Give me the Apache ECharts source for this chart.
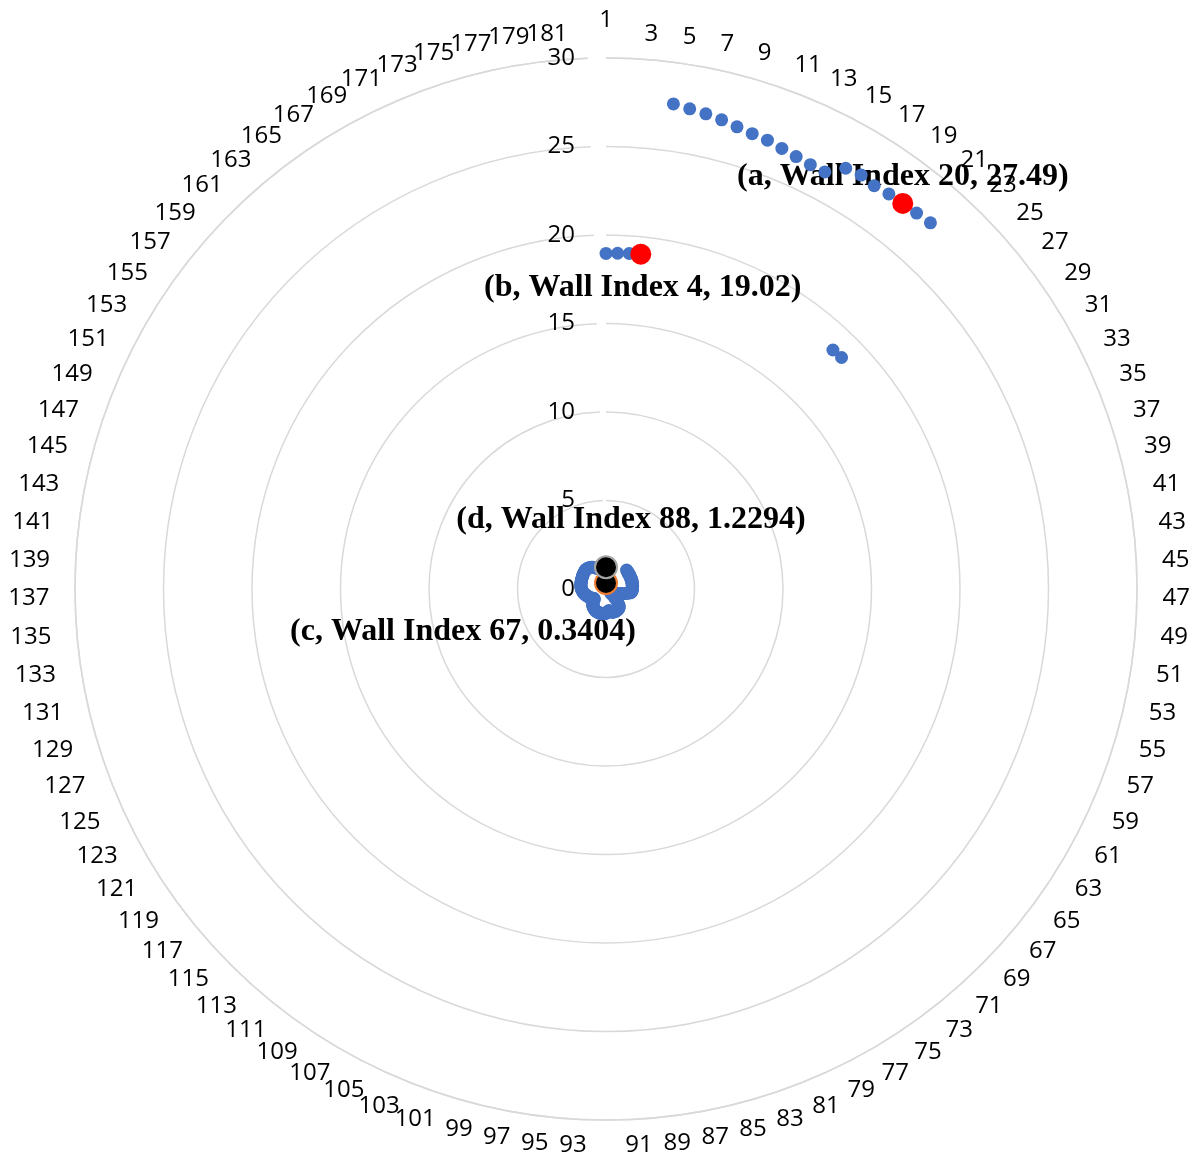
<!DOCTYPE html>
<html>
<head>
<meta charset="utf-8">
<script src="https://cdn.jsdelivr.net/npm/echarts@6/dist/echarts.min.js"></script>
<style>
  html, body { margin: 0; padding: 0; background: #ffffff; }
  #chart { width: 1196px; height: 1157px; }
</style>
</head>
<body>
<div id="chart"></div>
<script>
// Wall indices around the circle (1 at the top, clockwise)
const wallIndex = Array.from({ length: 182 }, (_, i) => String(i + 1));

// Measured value for every wall, in wall order 1..182
const wallValues = [
  // 1-4
  18.96, 18.98, 19.00, 19.02,
  // 5-22
  27.67, 27.54, 27.43, 27.30, 27.14, 27.02, 26.95, 26.80, 26.69, 26.61,
  26.61, 27.36, 27.47, 27.36, 27.45, 27.49, 27.55, 27.64,
  // 23-24
  18.62, 18.66,
  // 25-50
  1.58, 1.56, 1.55, 1.57, 1.54, 1.52, 1.55, 1.56, 1.53, 1.51, 1.54, 1.55, 1.52,
  1.50, 1.53, 1.54, 1.51, 1.49, 1.52, 1.50, 1.48, 1.50, 1.47, 1.49, 1.46, 1.45,
  // 51-66
  1.40, 1.28, 1.15, 1.02, 0.90, 0.80, 0.72, 0.64, 0.58, 0.52, 0.47, 0.43, 0.40,
  0.38, 0.36, 0.35,
  // 67
  0.3404,
  // 68-75
  0.45, 0.62, 0.80, 0.98, 1.12, 1.22, 1.28, 1.31,
  // 76-87
  1.33, 1.35, 1.34, 1.36, 1.38, 1.37, 1.35, 1.36, 1.38, 1.33, 1.30, 1.28,
  // 88
  1.2294,
  // 89-100
  1.26, 1.30, 1.34, 1.37, 1.39, 1.38, 1.40, 1.41, 1.39, 1.40, 1.42, 1.41,
  // 101-115
  1.40, 1.38, 1.39, 1.36, 1.37, 1.34, 1.32, 1.30, 1.27, 1.25, 1.22, 1.18, 1.12,
  1.05, 0.98,
  // 116-128
  0.92, 0.88, 0.86, 0.88, 0.92, 0.96, 1.00, 1.02, 1.05, 1.08, 1.10, 1.12, 1.15,
  // 129-150
  1.18, 1.22, 1.25, 1.28, 1.30, 1.32, 1.34, 1.36, 1.38, 1.40, 1.41, 1.42, 1.43,
  1.44, 1.44, 1.45, 1.46, 1.46, 1.47, 1.48, 1.48, 1.49,
  // 151-170
  1.50, 1.51, 1.52, 1.53, 1.54, 1.55, 1.56, 1.57, 1.58, 1.58, 1.57, 1.56, 1.54,
  1.52, 1.50, 1.47, 1.44, 1.40, 1.36, 1.32,
  // 171-182
  1.28, 1.25, 1.22, 1.20, 1.18, 1.17, 1.16, 1.15, 1.15, 1.14, 1.13, 1.12
];

// Highlighted walls
const highlightName  = ['a', 'b', 'c', 'd'];
const highlightWall  = [20, 4, 67, 88];
const highlightValue = [27.49, 19.02, 0.3404, 1.2294];
// spoke on which each highlight marker is placed (c and d sit on the first spoke)
const highlightSpoke = [20, 4, 1, 1];

// Radial axis
const radiusMin = 0, radiusMax = 30, radiusStep = 5;
// radial position (in axis units) of the wall-index labels, just outside the rim
const wallLabelRadius = 31.45;

const polarPoint = (value, wall) => [value, wall - 1];

const bluePoints = wallValues.map((v, i) => polarPoint(v, i + 1));
const highlightPoint = k => [polarPoint(highlightValue[k], highlightSpoke[k])];
const noteText = k => '(' + highlightName[k] + ', Wall Index ' + highlightWall[k] + ', ' + highlightValue[k] + ')';

// Wall-index labels: every other wall, hung off the rim toward the outside
const wallLabelItems = wallIndex
  .map((name, i) => ({ name, i }))
  .filter(d => d.i % 2 === 0)
  .map(d => {
    const deg = d.i * 360 / wallIndex.length;
    const atTop = deg === 0;
    return {
      value: [wallLabelRadius, d.i],
      label: {
        align: atTop ? 'center' : (deg < 180 ? 'left' : 'right'),
        verticalAlign: atTop ? 'bottom' : 'middle'
      }
    };
  });

// label placement around each highlighted marker
const noteOffset = [[0, -27], [2, 34], [-143, 49], [25, -48]];

const noteSeries = highlightName.map((n, k) => ({
  name: 'note-' + n,
  type: 'scatter',
  coordinateSystem: 'polar',
  z: 1,
  symbolSize: 1,
  itemStyle: { color: 'rgba(0,0,0,0)', opacity: 1 },
  silent: true,
  label: {
    show: true,
    position: 'inside',
    offset: noteOffset[k],
    formatter: noteText(k),
    fontFamily: '"Liberation Serif", "Times New Roman", serif',
    fontWeight: 'bold',
    fontSize: 32,
    color: '#000000',
    opacity: 1,
    textBorderWidth: 0
  },
  data: highlightPoint(k)
}));

const markerStyle = [
  { size: 21, color: '#ff0000', border: '#ff0000', bw: 0 },
  { size: 21, color: '#ff0000', border: '#ff0000', bw: 0 },
  { size: 22, color: '#000000', border: '#ed7d31', bw: 2 },
  { size: 22, color: '#000000', border: '#a5a5a5', bw: 2 }
];

const markerSeries = highlightName.map((n, k) => ({
  name: n,
  type: 'scatter',
  coordinateSystem: 'polar',
  z: 3 + k,
  symbolSize: markerStyle[k].size,
  itemStyle: {
    color: markerStyle[k].color,
    borderColor: markerStyle[k].border,
    borderWidth: markerStyle[k].bw,
    opacity: 1
  },
  data: highlightPoint(k)
}));

const chart = echarts.init(document.getElementById('chart'), null, { renderer: 'canvas' });

chart.setOption({
  animation: false,
  backgroundColor: '#ffffff',
  polar: { center: [606, 589], radius: 531 },
  angleAxis: {
    type: 'category',
    data: wallIndex,
    startAngle: 90,
    clockwise: true,
    boundaryGap: false,
    axisLine: { show: true, lineStyle: { color: '#d9d9d9', width: 1.5 } },
    axisTick: { show: false },
    splitLine: { show: false },
    axisLabel: { show: false }
  },
  radiusAxis: {
    type: 'value',
    min: radiusMin,
    max: radiusMax,
    interval: radiusStep,
    axisLine: { show: false },
    axisTick: { show: false },
    splitLine: { show: true, lineStyle: { color: '#d9d9d9', width: 1.5 } },
    axisLabel: {
      margin: 31,
      fontFamily: '"Open Sans", sans-serif',
      fontSize: 24,
      color: '#000000'
    }
  },
  series: [
    {
      name: 'wall-index',
      type: 'scatter',
      coordinateSystem: 'polar',
      clip: false,
      silent: true,
      z: 1,
      symbolSize: 1,
      itemStyle: { color: 'rgba(0,0,0,0)', opacity: 1 },
      label: {
        show: true,
        position: 'inside',
        formatter: p => wallIndex[p.value[1]],
        fontFamily: '"Open Sans", sans-serif',
        fontSize: 24,
        color: '#000000',
        opacity: 1,
        textBorderWidth: 0
      },
      labelLayout: { hideOverlap: false },
      data: wallLabelItems
    },
    ...noteSeries,
    {
      name: 'walls',
      type: 'scatter',
      coordinateSystem: 'polar',
      z: 2,
      symbolSize: 13,
      itemStyle: { color: '#4472c4', opacity: 1 },
      data: bluePoints
    },
    ...markerSeries
  ]
});
</script>
</body>
</html>
